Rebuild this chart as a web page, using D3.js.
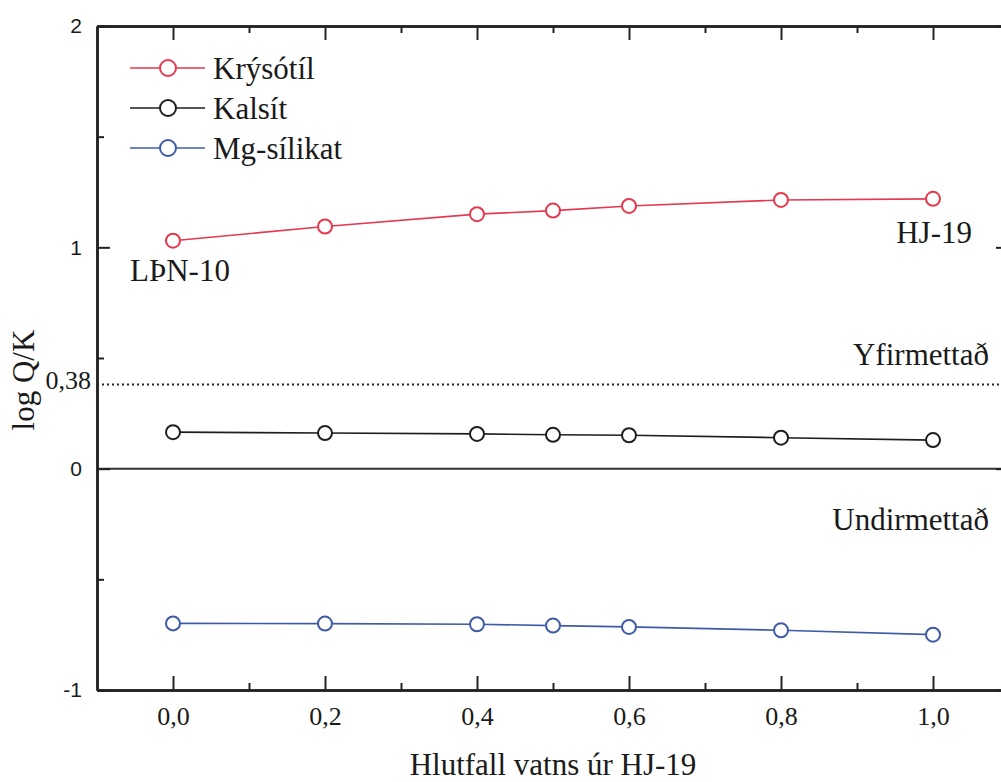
<!DOCTYPE html>
<html>
<head>
<meta charset="utf-8">
<script src="https://cdn.jsdelivr.net/npm/d3@7"></script>
<style>
  body { margin: 0; background: #fff; }
  svg { display: block; }
</style>
</head>
<body>
<svg width="1001" height="782"></svg>
<script>
const width = 1001;
const height = 782;
const svg = d3.select("svg");

// mixing fraction of HJ-19 water
const fractions = [0.0, 0.2, 0.4, 0.5, 0.6, 0.8, 1.0];
const krysotil = [1.03, 1.094, 1.15, 1.166, 1.187, 1.214, 1.219];
const kalsit = [0.165, 0.161, 0.157, 0.153, 0.151, 0.14, 0.129];
const mgSilikat = [-0.699, -0.700, -0.703, -0.709, -0.715, -0.730, -0.750];

const seriesNames = ["Krýsótíl", "Kalsít", "Mg-sílikat"];
const seriesColors = ["#e5394f", "#1e1e1e", "#3f5ba8"];

const xMajorTicks = [0.0, 0.2, 0.4, 0.6, 0.8, 1.0];
const xMinorTicks = [0.1, 0.3, 0.5, 0.7, 0.9];
const yMajorTicks = [-1, 0, 1, 2];
const yMinorTicks = [-0.5, 0.5, 1.5];
const saturationLimit = 0.38;

const x = d3.scaleLinear().domain([-0.1, 1.1]).range([97, 1009]);
const y = d3.scaleLinear().domain([-1, 2]).range([690, 26]);

const axisColor = "#222";
const serif = "Liberation Serif, DejaVu Serif, Noto Serif, serif";
const sans = "Liberation Sans, Arial, sans-serif";
const commaFormat = d => d3.format(".1f")(d).replace(".", ",");

// reference lines
svg.append("line")
  .attr("x1", x(-0.1)).attr("x2", width)
  .attr("y1", y(0)).attr("y2", y(0))
  .attr("stroke", "#333").attr("stroke-width", 2);

svg.append("line")
  .attr("x1", x(-0.1)).attr("x2", width)
  .attr("y1", y(saturationLimit)).attr("y2", y(saturationLimit))
  .attr("stroke", "#222").attr("stroke-width", 2)
  .attr("stroke-dasharray", "2,3");

// axes
function styleAxis(g) {
  g.selectAll("path, line").attr("stroke", axisColor);
  g.select(".domain").attr("stroke-width", 2.5);
  g.selectAll(".tick line").attr("stroke-width", 2);
}

svg.append("g")
  .attr("transform", `translate(0,${y(-1)})`)
  .call(d3.axisBottom(x).tickValues(xMajorTicks).tickSize(-14).tickSizeOuter(0)
    .tickPadding(17).tickFormat(commaFormat))
  .call(styleAxis)
  .call(g => g.attr("font-family", serif).attr("font-size", 26))
  .call(g => g.selectAll("text").attr("fill", "#1a1a1a"));

svg.append("g")
  .attr("transform", `translate(0,${y(-1)})`)
  .call(d3.axisBottom(x).tickValues(xMinorTicks).tickSize(-7).tickSizeOuter(0).tickFormat(""))
  .call(styleAxis);

svg.append("g")
  .attr("transform", `translate(0,${y(2)})`)
  .call(d3.axisTop(x).tickValues(xMajorTicks).tickSize(-14).tickSizeOuter(0).tickFormat(""))
  .call(styleAxis);

svg.append("g")
  .attr("transform", `translate(0,${y(2)})`)
  .call(d3.axisTop(x).tickValues(xMinorTicks).tickSize(-7).tickSizeOuter(0).tickFormat(""))
  .call(styleAxis);

svg.append("g")
  .attr("transform", `translate(${x(-0.1)},0)`)
  .call(d3.axisLeft(y).tickValues(yMajorTicks).tickSize(-13).tickSizeOuter(0)
    .tickPadding(15).tickFormat(d => String(d)))
  .call(styleAxis)
  .call(g => g.attr("font-family", sans).attr("font-size", 21))
  .call(g => g.selectAll("text").attr("fill", "#1a1a1a"));

svg.append("g")
  .attr("transform", `translate(${x(-0.1)},0)`)
  .call(d3.axisLeft(y).tickValues(yMinorTicks).tickSize(-7).tickSizeOuter(0).tickFormat(""))
  .call(styleAxis);

svg.append("g")
  .attr("transform", `translate(${x(1.1)},0)`)
  .call(d3.axisLeft(y).tickValues(yMajorTicks).tickSize(13).tickSizeOuter(0).tickFormat(""))
  .call(styleAxis);

svg.append("g")
  .attr("transform", `translate(${x(1.1)},0)`)
  .call(d3.axisLeft(y).tickValues(yMinorTicks).tickSize(7).tickSizeOuter(0).tickFormat(""))
  .call(styleAxis);

// series
const series = [krysotil, kalsit, mgSilikat].map((values, i) => ({
  name: seriesNames[i],
  color: seriesColors[i],
  points: fractions.map((f, j) => ({ f, v: values[j] }))
}));

const line = d3.line().x(d => x(d.f)).y(d => y(d.v));

const seriesG = svg.selectAll("g.series")
  .data(series)
  .join("g")
  .attr("class", "series");

seriesG.append("path")
  .attr("d", d => line(d.points))
  .attr("fill", "none")
  .attr("stroke", d => d.color)
  .attr("stroke-width", 1.6);

seriesG.selectAll("circle")
  .data(d => d.points.map(p => ({ ...p, color: d.color })))
  .join("circle")
  .attr("cx", d => x(d.f))
  .attr("cy", d => y(d.v))
  .attr("r", 7)
  .attr("fill", "#fff")
  .attr("stroke", d => d.color)
  .attr("stroke-width", 2);

// legend
const legend = svg.append("g").attr("transform", "translate(130,68)");
const legendRow = legend.selectAll("g")
  .data(series)
  .join("g")
  .attr("transform", (d, i) => `translate(0,${i * 40})`);

legendRow.append("line")
  .attr("x1", 0).attr("x2", 75)
  .attr("stroke", d => d.color).attr("stroke-width", 1.6);

legendRow.append("circle")
  .attr("cx", 38).attr("r", 8)
  .attr("fill", "#fff")
  .attr("stroke", d => d.color).attr("stroke-width", 2);

legendRow.append("text")
  .attr("x", 83).attr("y", 11)
  .attr("font-family", serif)
  .attr("font-size", 31)
  .attr("fill", "#1a1a1a")
  .text(d => d.name);

// labels
function label(txt, xPos, yPos, anchor, size) {
  return svg.append("text")
    .attr("x", xPos).attr("y", yPos)
    .attr("text-anchor", anchor)
    .attr("font-family", serif)
    .attr("font-size", size)
    .attr("fill", "#1a1a1a")
    .text(txt);
}

label("LÞN-10", 130, 281, "start", 31);
label("HJ-19", 972, 243, "end", 31);
label("Yfirmettað", 989, 365, "end", 31);
label("Undirmettað", 989, 530, "end", 31);
label("0,38", 91, y(saturationLimit) + 4, "end", 26);
label("Hlutfall vatns úr HJ-19", (x(-0.1) + x(1.1)) / 2, 775, "middle", 31);
label("log Q/K", 0, 0, "middle", 31)
  .attr("transform", "translate(34,380) rotate(-90)");
</script>
</body>
</html>
